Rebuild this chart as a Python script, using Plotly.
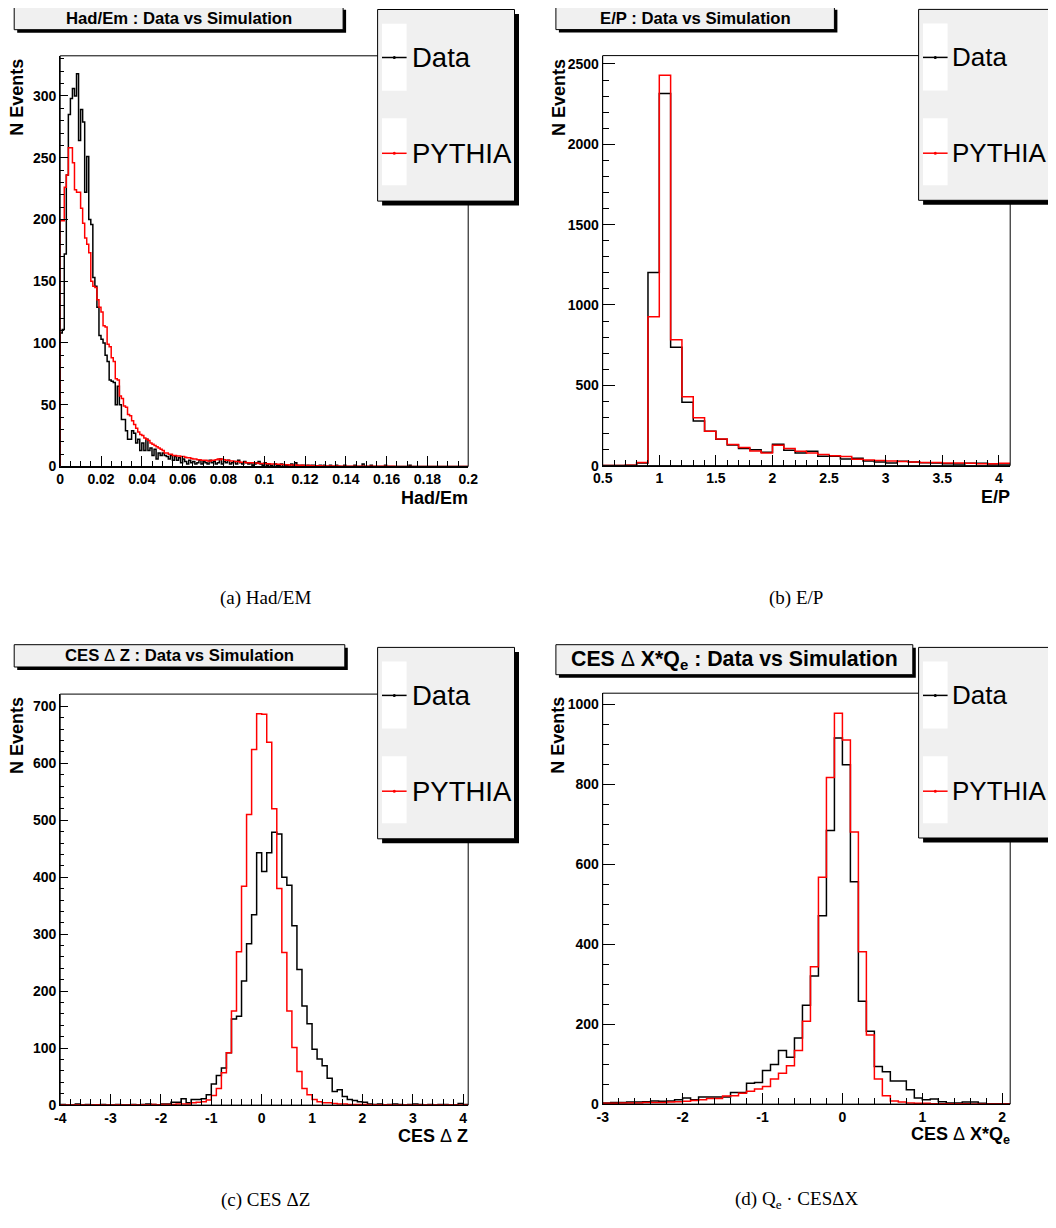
import numpy as np
import plotly.graph_objects as go

W, H = 1056, 1228          # page size
PAD = 8                    # default page margin around the figure
FW, FH = W - 2 * PAD, H - 2 * PAD

# ---------------- data (bin contents) ----------------
# (a) Had/Em : 200 bins of 0.001 from 0 to 0.2
had_start, had_width = 0.0, 0.001
had_data = [
    108, 111, 172, 236, 285, 298, 306, 300, 318, 264, 289, 279, 222, 251, 200, 196, 153, 146, 129, 106,
    103, 100, 90, 85, 70, 69, 68, 50, 65, 50, 38, 38, 29, 22, 22, 29, 27, 19, 22, 13,
    19, 13, 22, 13, 15, 9, 14, 6, 11, 9, 11, 9, 8, 6, 9, 5, 8, 5, 7, 3,
    6, 4, 2, 5, 3, 4, 2, 3, 5, 2, 4, 3, 2, 5, 3, 4, 2, 3, 6, 2,
    4, 3, 5, 2, 3, 4, 2, 5, 3, 2, 4, 3, 2, 3, 1, 2, 3, 4, 2, 1,
    3, 1, 2, 1, 0, 2, 1, 1, 2, 0, 1, 1, 0, 2, 1, 3, 1, 0, 1, 1,
    0, 1, 0, 1, 1, 0, 0, 1, 0, 1, 0, 0, 1, 0, 0, 1, 0, 0, 0, 1,
    0, 0, 0, 0, 1, 0, 0, 0, 2, 0, 0, 0, 1, 0, 0, 0, 0, 0, 0, 1,
    0, 0, 0, 0, 0, 0, 0, 0, 0, 0, 0, 1, 0, 0, 0, 0, 0, 0, 0, 0,
    0, 0, 0, 0, 0, 0, 0, 0, 0, 0, 0, 0, 0, 0, 0, 0, 0, 0, 0, 0,
]
had_mc = [
    199, 199, 226, 236, 258, 258, 246, 224, 222, 222, 209, 197, 185, 180, 173, 150, 146, 145, 135, 129,
    125, 114, 113, 99, 97, 88, 85, 71, 70, 57, 55, 49, 48, 42, 41, 37, 34, 31, 28, 26,
    25, 23, 22, 21, 19, 18, 17, 16, 15, 14, 13, 11, 11, 10, 10, 9, 9, 8.5, 8.5, 8,
    8, 7.5, 7, 7, 6.5, 6, 6, 5.5, 5.5, 5, 5, 5, 4.5, 4.5, 5, 5, 5.5, 6, 5.5, 6,
    5.5, 5, 5, 4.5, 4.5, 4, 4, 4, 3.5, 3.5, 3.5, 3, 3, 3, 3, 2.8, 2.8, 2.5, 2.5, 2.5,
    2.4, 2.2, 2.2, 2, 2, 2, 1.8, 1.8, 1.6, 1.6, 1.5, 1.4, 1.3, 1.3, 1.2, 1.2, 1.1, 1, 1, 0.9,
    0.9, 0.8, 0.8, 0.7, 0.7, 0.6, 0.6, 0.6, 0.5, 0.5, 0.5, 0.5, 0.4, 0.4, 0.4, 0.4, 0.4, 0.3, 0.3, 0.3,
    0.3, 0.3, 0.3, 0.3, 0.3, 0.2, 0.2, 0.2, 0.2, 0.2, 0.2, 0.2, 0.2, 0.2, 0.2, 0.2, 0.2, 0.2, 0.2, 0.2,
    0.2, 0.2, 0.2, 0.2, 0.1, 0.1, 0.1, 0.1, 0.1, 0.1, 0.1, 0.1, 0.1, 0.1, 0.1, 0.1, 0.1, 0.1, 0.1, 0.1,
    0.1, 0.1, 0.1, 0.1, 0.1, 0.1, 0.1, 0.1, 0.1, 0.1, 0.1, 0.1, 0.1, 0.1, 0.1, 0.1, 0.1, 0.1, 0.1, 0.1,
]

# (b) E/P : 36 bins of 0.1 from 0.5 to 4.1
ep_start, ep_width = 0.5, 0.1
ep_data = [0, 1, 2, 16, 1202, 2316, 737, 394, 277, 214, 164, 129, 106, 98, 83, 133, 96, 79, 89, 58,
           58, 41, 46, 29, 22, 16, 27, 22, 18, 16, 12, 10, 14, 14, 10, 10]
ep_mc = [0, 1, 2, 20, 927, 2429, 783, 429, 298, 214, 166, 131, 112, 91, 79, 127, 106, 89, 79, 69,
         62, 56, 39, 35, 31, 29, 25, 22, 20, 20, 16, 16, 14, 12, 12, 14]

# (c) CES delta Z : 81 bins of 0.1 from -4 to 4.1
cz_start, cz_width = -4.0, 0.1
cz_data = [1, 0, 0, 2, 0, 1, 0, 0, 1, 0, 0, 1, 0, 0, 1, 0, 1, 2, 1, 0,
           2, 2, 5, 5, 11, 4, 10, 10, 11, 18, 37, 52, 65, 92, 151, 156, 218, 283, 334, 443,
           410, 443, 479, 476, 400, 386, 315, 238, 174, 143, 98, 81, 69, 47, 24, 27, 15, 10, 8, 6,
           5, 2, 1, 2, 0, 1, 2, 1, 0, 1, 2, 1, 0, 1, 0, 1, 1, 0, 0, 3, 1]
cz_mc = [0, 0, 0, 0.5, 0, 0, 0, 0.5, 0, 0, 0, 0.5, 0, 0, 0.5, 0, 0.5, 0.5, 1, 0.5,
         1, 1, 1, 2, 2, 2, 4, 5, 6, 9, 17, 29, 57, 92, 165, 269, 384, 510, 624, 687,
         686, 637, 520, 380, 268, 165, 101, 59, 29, 18, 10, 6, 4, 4, 3, 2, 2, 1, 1, 1,
         1, 0.5, 0.5, 0.5, 0.5, 0.5, 0.3, 0.3, 0.3, 0.3, 0.3, 0.2, 0.2, 0.2, 0.2, 0.2, 0.2, 0.2, 0.2, 0.2, 0.2]

# (d) CES delta X * Qe : 51 bins of 0.1 from -3 to 2.1
dx_start, dx_width = -3.0, 0.1
dx_data = [3, 4, 4, 5, 5, 6, 8, 7, 8, 11, 15, 11, 18, 18, 18, 18, 29, 29, 52, 54,
           84, 99, 134, 117, 165, 247, 320, 471, 684, 915, 848, 556, 257, 182, 94, 81, 58, 58, 36, 15,
           11, 13, 6, 3, 3, 5, 5, 2, 1, 1, 1]
dx_mc = [2, 2, 3, 3, 3, 4, 4, 4, 5, 6, 7, 9, 11, 14, 14, 20, 21, 27, 32, 38,
         44, 63, 77, 96, 134, 207, 343, 567, 816, 977, 910, 680, 381, 173, 63, 21, 8, 5, 3, 2,
         2, 1, 1, 1, 1, 1, 0.5, 0.5, 0.5, 0.5, 0.5]

series_names = ["Data", "PYTHIA"]
titles = ["Had/Em : Data vs Simulation", "E/P : Data vs Simulation",
          "CES </b>\u0394<b> Z : Data vs Simulation", "CES </b>\u0394<b> X*Q<sub>e</sub> : Data vs Simulation"]
xtitles = ["Had/Em", "E/P", "CES </b>\u0394<b> Z", "CES </b>\u0394<b> X*Q<sub>e</sub>"]
captions = ["(a) Had/EM", "(b) E/P", "(c) CES \u0394Z", "(d) Q<sub>e</sub> \u00b7 CES\u0394X"]

# ---------------- layout geometry (page pixels -> paper) ----------------
def X(p):
    return (p - PAD) / FW

def Y(p):
    return 1 - (p - PAD) / FH

SANS = "Liberation Sans, Arial, sans-serif"
SERIF = "Liberation Serif, Times New Roman, serif"

panels = [
    dict(start=had_start, width=had_width, data=had_data, mc=had_mc,
         box=(60.2, 55.8, 468.2, 466.5), xr=[0, 0.2], yr=[0, 332.5],
         xd=0.02, xm=0.005, yd=50, ym=10, yl=8,
         tbox=(14.2, 6.8, 343.1, 29.7), tsize=16.7, leg=(377.6, 9.5, 514.5, 201.1), lfs=27.5, ltx=32.5,
         capx=265, capy=598, ytx=17),
    dict(start=ep_start, width=ep_width, data=ep_data, mc=ep_mc,
         box=(602.7, 55.6, 1010.2, 465.6), xr=[0.5, 4.1], yr=[0, 2552],
         xd=0.5, xm=0.1, yd=500, ym=100, yl=12,
         tbox=(555.9, 6.7, 834.4, 29.6), tsize=16.7, leg=(918.6, 9.4, 1075, 200.3), lfs=26, ltx=31.5,
         capx=796, capy=598, ytx=558.5),
    dict(start=cz_start, width=cz_width, data=cz_data, mc=cz_mc,
         box=(60.2, 694.1, 468.2, 1105.1), xr=[-4, 4.1], yr=[0, 721.4],
         xd=1, xm=0.2, yd=100, ym=20, yl=8,
         tbox=(14.2, 644.7, 344.8, 667), tsize=16.7, leg=(377.6, 647.4, 514.5, 838.8), lfs=27.5, ltx=32.5,
         capx=265, capy=1200, ytx=17),
    dict(start=dx_start, width=dx_width, data=dx_data, mc=dx_mc,
         box=(602.7, 693.2, 1010.2, 1104.1), xr=[-3, 2.1], yr=[0, 1027],
         xd=1, xm=0.2, yd=200, ym=50, yl=12,
         tbox=(555.9, 644.7, 912.8, 674.7), tsize=21.3, leg=(918.6, 647.4, 1075, 838), lfs=26, ltx=31.5,
         capx=796, capy=1200, ytx=558.5),
]

def tick_array(lo, hi, step):
    vals = np.arange(np.ceil(lo / step - 1e-9) * step, hi + 1e-9, step)
    vals = [round(float(v), 6) for v in vals]
    text = ["<b>" + ("%g" % v if v != 0 else "0") + "</b>" for v in vals]
    return vals, text

fig = go.Figure()
shapes = []
annotations = []
layout_axes = {}

for i, p in enumerate(panels, start=1):
    xa = "x" if i == 1 else f"x{i}"
    ya = "y" if i == 1 else f"y{i}"
    L, T, R, B = p["box"]
    n = len(p["data"])
    edges = p["start"] + p["width"] * np.arange(n + 1)
    for vals, color in ((p["data"], "#000000"), (p["mc"], "#ff0000")):
        xs = [edges[0]] + list(edges)
        ys = [0] + list(vals) + [vals[-1]]
        fig.add_trace(go.Scatter(x=xs, y=ys, mode="lines", line=dict(shape="hv", color=color, width=1.5),
                                 xaxis=xa, yaxis=ya, showlegend=False, hoverinfo="skip"))
    tickfont = dict(family=SANS, size=14, color="black")
    xt, xtext = tick_array(p["xr"][0], p["xr"][1], p["xd"])
    yt, ytext = tick_array(p["yr"][0], p["yr"][1], p["yd"])
    layout_axes["xaxis" if i == 1 else f"xaxis{i}"] = dict(
        domain=[X(L), X(R)], range=p["xr"], anchor=ya, showline=True, linecolor="black", linewidth=1,
        ticks="inside", ticklen=11, tickwidth=1, tickcolor="black", tickmode="array",
        tickvals=xt, ticktext=xtext, automargin=False,
        minor=dict(ticks="inside", ticklen=6, tickcolor="black", dtick=p["xm"], tick0=0),
        showgrid=False, zeroline=False, tickfont=tickfont, fixedrange=True)
    layout_axes["yaxis" if i == 1 else f"yaxis{i}"] = dict(
        domain=[Y(B), Y(T)], range=p["yr"], anchor=xa, showline=True, linecolor="black", linewidth=1,
        ticks="inside", ticklen=p["yl"], tickwidth=1, tickcolor="black", tickmode="array",
        tickvals=yt, ticktext=ytext, automargin=False,
        minor=dict(ticks="inside", ticklen=p["yl"] / 2, tickcolor="black", dtick=p["ym"], tick0=0),
        showgrid=False, zeroline=False, tickfont=tickfont, fixedrange=True)

    # frame
    shapes.append(dict(type="rect", xref="paper", yref="paper", x0=X(L), x1=X(R), y0=Y(B), y1=Y(T),
                       line=dict(color="black", width=1), fillcolor="rgba(0,0,0,0)", layer="above"))
    # title box with shadow
    tx0, ty0, tx1, ty1 = p["tbox"]
    shapes.append(dict(type="rect", xref="paper", yref="paper", x0=X(tx0 + 3), x1=X(tx1 + 3),
                       y0=Y(ty1 + 3), y1=Y(ty0 + 3), line=dict(width=0), fillcolor="black", layer="above"))
    shapes.append(dict(type="rect", xref="paper", yref="paper", x0=X(tx0), x1=X(tx1),
                       y0=Y(ty1), y1=Y(ty0), line=dict(color="black", width=1), fillcolor="#f0f0f0", layer="above"))
    annotations.append(dict(xref="paper", yref="paper", x=X((tx0 + tx1) / 2), y=Y((ty0 + ty1) / 2),
                            text="<b>" + titles[i - 1] + "</b>", showarrow=False, xanchor="center", yanchor="middle",
                            font=dict(family=SANS, size=p["tsize"], color="black")))
    # legend box with shadow
    lx0, ly0, lx1, ly1 = p["leg"]
    shapes.append(dict(type="rect", xref="paper", yref="paper", x0=X(lx0 + 4.5), x1=X(lx1 + 4.5),
                       y0=Y(ly1 + 4.5), y1=Y(ly0 + 4.5), line=dict(width=0), fillcolor="black", layer="above"))
    shapes.append(dict(type="rect", xref="paper", yref="paper", x0=X(lx0), x1=X(lx1),
                       y0=Y(ly1), y1=Y(ly0), line=dict(color="black", width=1), fillcolor="#f0f0f0", layer="above"))
    for k, (name, color) in enumerate(zip(series_names, ["#000000", "#ff0000"])):
        wy0 = ly0 + 14.2 + k * 94.6
        wy1 = wy0 + 67
        cy = ly0 + 48 + k * 95.8
        shapes.append(dict(type="rect", xref="paper", yref="paper", x0=X(lx0 + 4.4), x1=X(lx0 + 29),
                           y0=Y(wy1), y1=Y(wy0), line=dict(width=0), fillcolor="white", layer="above"))
        shapes.append(dict(type="line", xref="paper", yref="paper", x0=X(lx0 + 4.4), x1=X(lx0 + 29),
                           y0=Y(cy), y1=Y(cy), line=dict(color=color, width=1.5), layer="above"))
        shapes.append(dict(type="circle", xref="paper", yref="paper", x0=X(lx0 + 15.2), x1=X(lx0 + 18.2),
                           y0=Y(cy + 1.5), y1=Y(cy - 1.5), line=dict(width=0), fillcolor=color, layer="above"))
        annotations.append(dict(xref="paper", yref="paper", x=X(lx0 + p["ltx"]), y=Y(cy), text=name,
                                showarrow=False, xanchor="left", yanchor="middle",
                                font=dict(family=SANS, size=p["lfs"], color="black")))
    # axis titles
    annotations.append(dict(xref="paper", yref="paper", x=X(p["ytx"]), y=Y(T + 1.5), text="<b>N Events</b>",
                            textangle=-90, showarrow=False, xanchor="center", yanchor="top",
                            font=dict(family=SANS, size=18, color="black")))
    annotations.append(dict(xref="paper", yref="paper", x=X(R + 1.5), y=Y(B + 31), text="<b>" + xtitles[i - 1] + "</b>",
                            showarrow=False, xanchor="right", yanchor="middle",
                            font=dict(family=SANS, size=18, color="black")))
    # caption
    annotations.append(dict(xref="paper", yref="paper", x=X(p["capx"]), y=Y(p["capy"]), text=captions[i - 1],
                            showarrow=False, xanchor="center", yanchor="middle",
                            font=dict(family=SERIF, size=19, color="black")))

fig.update_layout(width=FW, height=FH, margin=dict(l=0, r=0, t=0, b=0), paper_bgcolor="white",
                  plot_bgcolor="white", shapes=shapes, annotations=annotations, showlegend=False,
                  **layout_axes)

fig.write_html("out.html", config={"displayModeBar": False})
